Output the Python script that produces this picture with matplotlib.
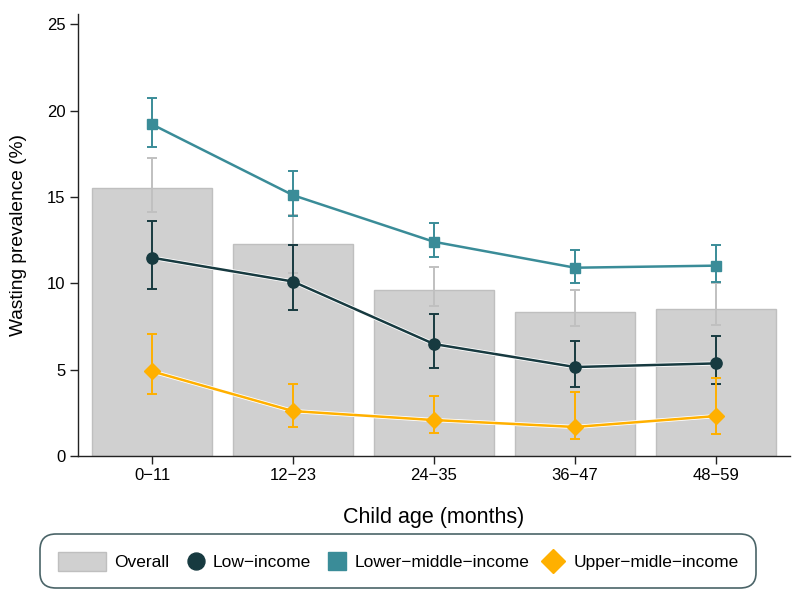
import matplotlib.pyplot as plt
import matplotlib.patheffects as pe
from matplotlib.patches import Patch
from matplotlib.lines import Line2D
from matplotlib.legend_handler import HandlerBase
import numpy as np

plt.rcParams['font.family'] = ['Liberation Sans', 'DejaVu Sans']

ages = ['0−11', '12−23', '24−35', '36−47', '48−59']

# overall (bars) with 95% CI
overall = [15.5, 12.25, 9.6, 8.33, 8.5]
overall_lo = [14.1, 10.6, 8.68, 7.5, 7.58]
overall_hi = [17.25, 13.95, 10.95, 9.6, 10.0]

# low-income
low = [11.48, 10.1, 6.48, 5.15, 5.36]
low_lo = [9.66, 8.45, 5.1, 4.0, 4.15]
low_hi = [13.6, 12.2, 8.2, 6.65, 6.96]

# lower-middle-income
lmid = [19.2, 15.1, 12.4, 10.9, 11.02]
lmid_lo = [17.9, 13.9, 11.5, 10.0, 10.1]
lmid_hi = [20.75, 16.5, 13.5, 11.9, 12.2]

# upper-middle-income
umid = [4.9, 2.6, 2.08, 1.68, 2.31]
umid_lo = [3.57, 1.68, 1.31, 0.98, 1.29]
umid_hi = [7.08, 4.17, 3.47, 3.7, 4.53]

gray_bar = '#d0d0d0'
gray_err = '#c0c0c0'
c_low = '#173a40'
c_lmid = '#3a8c98'
c_umid = '#ffb000'

x = np.arange(len(ages))

fig = plt.figure(figsize=(8, 6.01), dpi=100)
ax = fig.add_axes([0.0975, 0.2413, 0.89, 0.7357])

def yerr(v, lo, hi):
    v = np.array(v); lo = np.array(lo); hi = np.array(hi)
    return np.vstack([v - lo, hi - v])

ax.bar(x, overall, width=0.845, color=gray_bar, edgecolor='#bfbfbf',
       linewidth=1, zorder=1)
ax.errorbar(x, overall, yerr=yerr(overall, overall_lo, overall_hi), fmt='none',
            ecolor=gray_err, elinewidth=1.4, capsize=3.8, capthick=1.4, zorder=2)

halo = [pe.Stroke(linewidth=3.0, foreground='white'), pe.Normal()]

series = [
    (lmid, lmid_lo, lmid_hi, c_lmid, 's', 7.7),
    (low, low_lo, low_hi, c_low, 'o', 8.1),
    (umid, umid_lo, umid_hi, c_umid, 'D', 8.1),
]
for i, (v, lo, hi, c, m, ms) in enumerate(series):
    z = 3 + i
    ax.plot(x, v, color=c, linewidth=1.8, zorder=z, path_effects=halo)
    ax.errorbar(x, v, yerr=yerr(v, lo, hi), fmt='none', ecolor=c,
                elinewidth=1.4, capsize=3.8, capthick=1.4, zorder=z + 0.2)
    ax.plot(x, v, linestyle='none', marker=m, markersize=ms, color=c,
            markeredgecolor=c, zorder=z + 0.4)

ax.set_xlim(-0.525, 4.525)
ax.set_ylim(0, 25.6)
ax.set_yticks([0, 5, 10, 15, 20, 25])
ax.set_xticks(x)
ax.set_xticklabels(ages)
ax.tick_params(axis='both', labelsize=12, length=5.5, width=1, color='#222222')
for s in ['top', 'right']:
    ax.spines[s].set_visible(False)
for s in ['left', 'bottom']:
    ax.spines[s].set_color('#222222')
    ax.spines[s].set_linewidth(1)

ax.set_ylabel('Wasting prevalence (%)', fontsize=13.8)
ax.yaxis.set_label_coords(-0.072, 0.5)
ax.set_xlabel('Child age (months)', fontsize=15.5, labelpad=17)


# legend: markers sit at the right end of the handle box, next to the text
class RightMarker(HandlerBase):
    def create_artists(self, legend, orig_handle, xdescent, ydescent,
                       width, height, fontsize, trans):
        ms = orig_handle.get_markersize()
        w = ms * (1.414 if orig_handle.get_marker() == 'D' else 1.0)
        m = Line2D([width - xdescent - w / 2], [height / 2 - ydescent],
                   linestyle='none', marker=orig_handle.get_marker(),
                   markersize=ms, color=orig_handle.get_color())
        m.set_transform(trans)
        return [m]


leg_handles = [
    Patch(facecolor=gray_bar, edgecolor='#bfbfbf'),
    Line2D([], [], linestyle='none', marker='o', markersize=12.2, color=c_low),
    Line2D([], [], linestyle='none', marker='s', markersize=12.5, color=c_lmid),
    Line2D([], [], linestyle='none', marker='D', markersize=12.2, color=c_umid),
]
leg_labels = ['Overall', 'Low−income', 'Lower−middle−income', 'Upper−midle−income']
leg = fig.legend(leg_handles, leg_labels, loc='center', bbox_to_anchor=(0.4975, 0.066),
                 ncol=4, fontsize=12.5, frameon=True, fancybox=True,
                 handlelength=2.76, handleheight=1.35, handletextpad=0.5,
                 columnspacing=-0.75, borderpad=1.0,
                 handler_map={Line2D: RightMarker()})
leg.get_frame().set_edgecolor('#1d3d42')
leg.get_frame().set_linewidth(1.2)
leg.get_frame().set_boxstyle('round', pad=0.0, rounding_size=0.9)

fig.savefig('out.png', dpi=100)
